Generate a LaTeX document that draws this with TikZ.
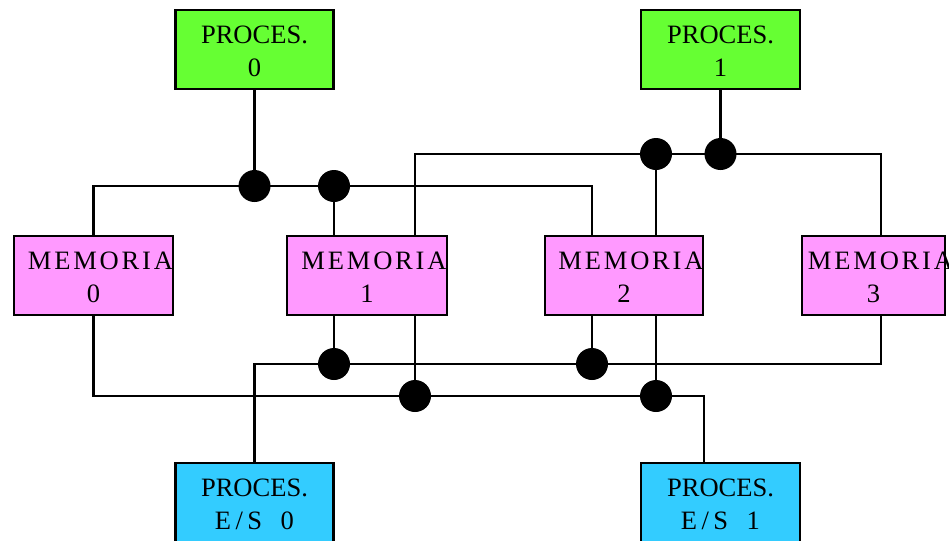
\documentclass[tikz,border=0pt]{standalone}
\usepackage{fontspec}
\setmainfont{Liberation Serif}
\usetikzlibrary{calc}
\definecolor{procgreen}{HTML}{66FF33}
\definecolor{mempink}{HTML}{FF99FF}
\definecolor{iocyan}{HTML}{33CCFF}
\newcommand\memword{M\kern2.1pt E\kern2.1pt M\kern2.1pt O\kern2.1pt R\kern2.1pt I\kern2.1pt A}
\newcommand\memlabel[1]{\rule{0pt}{15.5pt}\makebox[0pt]{\hspace*{10.5pt}\memword}\\ #1}
\newcommand\proclabel[1]{\rule{0pt}{15.5pt}PROCES.\\ #1}
\begin{document}
\begin{tikzpicture}[x=0.75pt,y=-0.75pt,
  box/.style={draw=black, line width=1.9pt, rectangle, inner sep=0pt,
    minimum height=59.25pt, align=center,
    font=\fontsize{19.9pt}{24.9pt}\selectfont},
  procbox/.style={box, fill=procgreen, minimum width=118.5pt},
  membox/.style={box, fill=mempink, minimum width=119pt},
  iobox/.style={box, fill=iocyan, minimum width=118.5pt},
  wire/.style={draw=black, line width=1.6pt},
  junction/.style={fill=black}]
\useasboundingbox (0,0) rectangle (949,540);

% nodes
\node[procbox] (p0) at (254.5,49.5) {\proclabel{0}};
\node[procbox, minimum width=119.25pt] (p1) at (720.5,49.5) {\proclabel{1}};
\node[membox] (m0) at (93.5,275.5) {\memlabel{0}};
\node[membox, minimum width=120pt] (m1) at (367,275.5) {\memlabel{1}};
\node[membox, minimum width=118.5pt] (m2) at (624,275.5) {\memlabel{2}};
\node[membox, minimum width=107.25pt] (m3) at (873.5,275.5) {\memlabel{3}};
\node[iobox] (e0) at (254.5,502.5) {\proclabel{E\,/\,S\hspace{0.7em}0}};
\node[iobox, minimum width=119.25pt] (e1) at (720.5,502.5) {\proclabel{E\,/\,S\hspace{0.7em}1}};

% junction points
\coordinate (d1) at (254.5,186);
\coordinate (d2) at (334,186);
\coordinate (d3) at (656,154);
\coordinate (d4) at (720.5,154);
\coordinate (d5) at (334,364);
\coordinate (d6) at (592,364);
\coordinate (d7) at (415,396);
\coordinate (d8) at (656,396);

% upper bus 1 (processor 0)
\draw[wire] (p0) -- (d1);
\draw[wire] (m0.north) |- (d1) -- (d2) -| ($(m2.north)+(-32,0)$);
\draw[wire] (d2) -- ($(m1.north)+(-33,0)$);

% upper bus 2 (processor 1)
\draw[wire] (p1) -- (d4);
\draw[wire] ($(m1.north)+(48,0)$) |- (d3) -- (d4) -| ($(m3.north)+(7.5,0)$);
\draw[wire] (d3) -- ($(m2.north)+(32,0)$);

% lower bus A (E/S 0)
\draw[wire] (e0.north) |- (d5) -- (d6) -| ($(m3.south)+(7.5,0)$);
\draw[wire] ($(m1.south)+(-33,0)$) -- (d5);
\draw[wire] ($(m2.south)+(-32,0)$) -- (d6);

% lower bus B (E/S 1)
\draw[wire] (m0.south) |- (d7) -- (d8) -| ($(e1.north)+(-16.5,0)$);
\draw[wire] ($(m1.south)+(48,0)$) -- (d7);
\draw[wire] ($(m2.south)+(32,0)$) -- (d8);

% junction dots
\foreach \d in {d1,d2,d3,d4,d5,d6,d7,d8}
  \fill[junction] (\d) circle[radius=12pt];
\end{tikzpicture}
\end{document}
